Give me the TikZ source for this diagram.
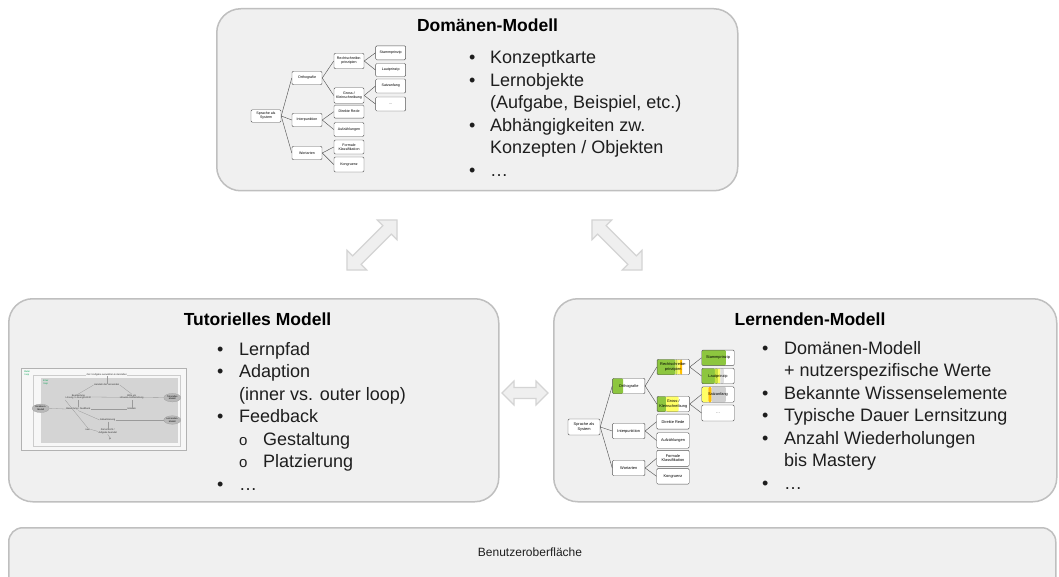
\documentclass[tikz,border=0pt]{standalone}
\usepackage{fontspec}
\setmainfont{Liberation Sans}
\usetikzlibrary{calc,shapes.geometric}
\definecolor{boxfill}{HTML}{F0F0F0}
\definecolor{boxline}{HTML}{BFBFBF}
\definecolor{arrfill}{HTML}{EFEFEF}
\definecolor{arrline}{HTML}{D4D4D4}
\definecolor{lgreen}{HTML}{8DC63F}
\definecolor{ygreen}{HTML}{C8E040}
\definecolor{lyellow}{HTML}{FFFF66}
\definecolor{lorange}{HTML}{FFC000}
\definecolor{lgray}{HTML}{D0D0D0}
\definecolor{tline}{HTML}{555555}
\definecolor{txt}{HTML}{1E1E1E}
\definecolor{thumbline}{HTML}{9A9A9A}
\definecolor{loopgreen}{HTML}{00A050}
\newcommand\segfill[3]{\fill[#1] ($(path picture bounding box.south west)!#2!(path picture bounding box.south east)$) rectangle ($(path picture bounding box.north west)!#3!(path picture bounding box.north east)$);}
\newcommand\blockarrow[5]{%
\begin{scope}[shift={(#1)}, rotate=#2]
\draw[barrow] ({-#3},0) -- ({-#3+#4},{#4}) -- ({-#3+#4},{#5}) -- ({#3-#4},{#5}) -- ({#3-#4},{#4}) -- ({#3},0) -- ({#3-#4},{-#4}) -- ({#3-#4},{-#5}) -- ({-#3+#4},{-#5}) -- ({-#3+#4},{-#4}) -- cycle;
\end{scope}}
\tikzset{
  mainbox/.style={draw=boxline, fill=boxfill, line width=1.5pt, rounded corners=24pt, inner sep=0pt, anchor=north west},
  titletext/.style={font=\fontsize{17.5}{20}\selectfont\bfseries, text=black, inner sep=0pt, anchor=base},
  listtext/.style={font=\fontsize{18}{22.5}\selectfont, text=txt, inner sep=0pt, anchor=base west},
  barrow/.style={draw=arrline, fill=arrfill, line width=1.2pt, line join=miter},
  tbox/.style={draw=tline, fill=white, line width=0.45pt, rounded corners=1.2pt, minimum width=30pt, minimum height=13.5pt, inner sep=0pt, align=center, font=\fontsize{3.6}{4}\selectfont},
  lbox/.style={tbox, minimum width=32.5pt, minimum height=15.5pt, font=\fontsize{3.9}{4.3}\selectfont},
  tedge/.style={draw=tline, line width=0.45pt},
  tiny/.style={font=\fontsize{2.4}{2.7}\selectfont, inner sep=0.3pt, align=center, text=black!80},
  thl/.style={draw=thumbline, line width=0.3pt},
  ell/.style={ellipse, fill=black!28, draw=black!40, line width=0.2pt, minimum width=17pt, minimum height=8.5pt, inner sep=0pt, align=center, font=\fontsize{2.3}{2.6}\selectfont}
}
\begin{document}
\begin{tikzpicture}[x=1pt,y=-1pt]
\fill[white] (0,0) rectangle (1059,577);
\useasboundingbox (0,0) rectangle (1059,577);

% ---------- main boxes ----------
\node[mainbox, minimum width=521pt, minimum height=182pt] (dom) at (216,8) {};
\node[mainbox, minimum width=490pt, minimum height=203pt] (tut) at (8,298) {};
\node[mainbox, minimum width=503pt, minimum height=203pt] (lern) at (553,298) {};
\begin{scope}
\clip (0,0) rectangle (1059,577);
\node[mainbox, rounded corners=14pt, minimum width=1047pt, minimum height=80pt] (ui) at (8,527) {};
\end{scope}

% ---------- titles ----------
\node[titletext] (domt) at (487.5,32) {Domänen-Modell};
\node[titletext] (tutt) at (257.5,325) {Tutorielles Modell};
\node[titletext] (lernt) at (810,325) {Lernenden-Modell};
\node[font=\fontsize{12}{14}\selectfont, text=txt, inner sep=0pt] (uit) at (530,552) {Benutzeroberfläche};

% ---------- bullet lists ----------
\node[listtext] (doml) at (469,64) {\begin{tabular}[t]{@{}l@{}l@{}}
\makebox[21pt][l]{•} & Konzeptkarte\\
\makebox[21pt][l]{•} & Lernobjekte\\
 & (Aufgabe, Beispiel, etc.)\\
\makebox[21pt][l]{•} & Abhängigkeiten zw.\\
 & Konzepten / Objekten\\
\makebox[21pt][l]{•} & …
\end{tabular}};
\node[listtext] (tutl) at (217,355) {\begin{tabular}[t]{@{}l@{}l@{}}
\makebox[22pt][l]{•} & Lernpfad\\
\makebox[22pt][l]{•} & Adaption\\
 & (inner vs. outer loop)\\
\makebox[22pt][l]{•} & Feedback\\
 & \makebox[24pt][l]{\fontsize{15}{15}\selectfont o}Gestaltung\\
 & \makebox[24pt][l]{\fontsize{15}{15}\selectfont o}Platzierung\\
\makebox[22pt][l]{•} & …
\end{tabular}};
\node[listtext] (lernl) at (762,354) {\begin{tabular}[t]{@{}l@{}l@{}}
\makebox[22pt][l]{•} & Domänen-Modell\\
 & + nutzerspezifische Werte\\
\makebox[22pt][l]{•} & Bekannte Wissenselemente\\
\makebox[22pt][l]{•} & Typische Dauer Lernsitzung\\
\makebox[22pt][l]{•} & Anzahl Wiederholungen\\
 & bis Mastery\\
\makebox[22pt][l]{•} & …
\end{tabular}};

% ---------- block arrows ----------
\coordinate (arr1) at (372,245);
\coordinate (arr2) at (617,245);
\coordinate (arr3) at (525,393);
\blockarrow{arr1}{45}{35.4}{14}{6}
\blockarrow{arr2}{-45}{35.4}{14}{6}
\blockarrow{arr3}{0}{23}{12}{5.5}

% ---------- domain tree thumbnail ----------
\node[tbox, minimum height=12.5pt] (s1) at (266,116) {Sprache als\\System};
\node[tbox] (o1) at (307,78) {Orthografie};
\node[tbox] (i1) at (307,120) {Interpunktion};
\node[tbox] (w1) at (307,153) {Wortarten};
\node[tbox, minimum height=15.5pt] (r1) at (349,61) {Rechtschreibe-\\prinzipien};
\node[tbox, minimum height=15.5pt] (g1) at (349,95.5) {Gross-/\\Kleinschreibung};
\node[tbox, minimum height=13pt] (d1) at (349,111.7) {Direkte Rede};
\node[tbox, minimum height=14pt] (a1) at (349,129.5) {Aufzählungen};
\node[tbox, minimum height=14pt] (f1) at (349,147) {Formale\\Klassifikation};
\node[tbox, minimum height=15pt] (k1) at (349,164.5) {Kongruenz};
\node[tbox, minimum height=14pt] (st1) at (390.7,52.8) {Stammprinzip};
\node[tbox, minimum height=13pt] (l1) at (390.7,70) {Lautprinzip};
\node[tbox, minimum height=14pt] (sa1) at (390.7,86) {Satzanfang};
\node[tbox, minimum height=14pt] (e1) at (390.7,104) {…};
\foreach \a/\b in {s1/o1,s1/i1,s1/w1,o1/r1,o1/g1,i1/d1,i1/a1,w1/f1,w1/k1,r1/st1,r1/l1,g1/sa1,g1/e1}
  \draw[tedge] (\a.east) -- (\b.west);

% ---------- learner tree thumbnail ----------
\node[lbox, minimum width=32pt, minimum height=16pt] (s2) at (584,427) {Sprache als\\System};
\node[lbox, path picture={\segfill{lgreen}{0}{0.33}}] (o2) at (628.7,386) {Orthografie};
\node[lbox] (i2) at (628.7,431) {Interpunktion};
\node[lbox] (w2) at (628.7,468) {Wortarten};
\node[lbox, path picture={\segfill{lgreen}{0}{0.56}\segfill{ygreen}{0.56}{0.63}\segfill{lyellow}{0.63}{0.71}\segfill{lorange}{0.71}{0.77}}] (r2) at (673.3,367) {Rechtschreibe-\\prinzipien};
\node[lbox, path picture={\segfill{lgreen}{0}{0.28}\segfill{lyellow}{0.28}{0.66}}] (g2) at (673.3,404) {Gross-/\\Kleinschreibung};
\node[lbox, minimum height=15pt] (d2) at (673,421.7) {Direkte Rede};
\node[lbox] (a2) at (673,440.5) {Aufzählungen};
\node[lbox, minimum height=16pt] (f2) at (673,458.3) {Formale\\Klassifikation};
\node[lbox] (k2) at (673,476.3) {Kongruenz};
\node[lbox, path picture={\segfill{lgreen}{0}{0.74}}] (st2) at (718,357.8) {Stammprinzip};
\node[lbox, path picture={\segfill{lgreen}{0}{0.4}\segfill{ygreen}{0.4}{0.5}\segfill{lyellow}{0.5}{0.57}\segfill{lgray!70}{0.57}{0.68}}] (l2) at (718,376) {Lautprinzip};
\node[lbox, path picture={\segfill{lyellow}{0}{0.2}\segfill{lorange}{0.2}{0.3}\segfill{lgray}{0.3}{0.74}}] (sa2) at (718,394.5) {Satzanfang};
\node[lbox, minimum height=16pt] (e2) at (718,413) {…};
\foreach \a/\b in {s2/o2,s2/i2,s2/w2,o2/r2,o2/g2,i2/d2,i2/a2,w2/f2,w2/k2,r2/st2,r2/l2,g2/sa2,g2/e2}
  \draw[tedge] (\a.east) -- (\b.west);

% ---------- tutorial model thumbnail ----------
\fill[white!97!black] (21.7,368.3) rectangle (186.7,450.7);
\draw[black!30, line width=0.8pt] (21.7,368.3) rectangle (186.7,450.7);
\draw[thl, black!20] (33.5,375) rectangle (180,446.5);
\fill[black!17] (40.7,378.3) rectangle (178,442.7);
\node[tiny, fill=white!97!black] (hdr) at (106.7,374.6) {Ziel / Aufgabe auswählen \& darstellen};
\node[tiny, text=loopgreen, anchor=north west] (outer) at (23.5,370.5) {Outer\\loop};
\node[tiny, text=loopgreen, anchor=north west] (inner) at (42.5,379.5) {Inner\\loop};
\node[tiny] (hd) at (106.7,385) {Handeln der Lernenden};
\node[tiny] (bb) at (78.3,397) {Bearbeitung\\Lösung / Lösungsschritt};
\node[tiny] (bh) at (131.7,397) {Bitte um\\Hinweis / Hilfestellung};
\node[tiny] (bf) at (78.3,409) {Bewertung / Feedback};
\node[tiny] (hw) at (131.7,409) {Hinweis};
\node[tiny] (ak) at (107.7,420) {Aktualisierung};
\node[tiny] (nein) at (87.7,429.3) {nein};
\node[tiny] (ze) at (107.7,431.5) {Ziel erreicht /\\Aufgabe beendet};
\node[tiny] (ja) at (110,439.3) {ja};
\node[ell] (dm) at (40.7,408.3) {Domänen-\\Modell};
\node[ell] (tm) at (172.3,397.7) {Tutorielles\\Modell};
\node[ell] (lm) at (172.3,420) {Lernenden-\\Modell};
\draw[thl] (hdr.south) -- (hd.north);
\draw[thl] (hd.west) -- (bb.north);
\draw[thl] (hd.east) -- (bh.north);
\draw[thl] (bb.south) -- (bf.north);
\draw[thl] (bh.south) -- (hw.north);
\draw[thl] (hw.west) -- (bf.east);
\draw[thl] (bb.east) -- (tm.west);
\draw[thl] (bf.south) -- (ak.west);
\draw[thl] (ak.east) -- (lm.west);
\draw[thl] (ak.south) -- (ze.north);
\draw[thl] (ze.south) -- (ja.north);
\draw[thl] (ze.west) -- (nein.east);
\draw[thl] (nein.north) -- (bb.south west);
\draw[thl] (dm.east) -- (bf.west);
\end{tikzpicture}
\end{document}
